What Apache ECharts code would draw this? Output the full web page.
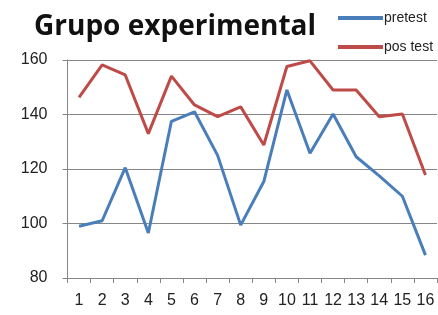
<!DOCTYPE html>
<html>
<head>
<meta charset="utf-8">
<script src="https://cdn.jsdelivr.net/npm/echarts@6/dist/echarts.min.js"></script>
<style>
  html, body { margin: 0; padding: 0; background: #fff; }
  #chart { width: 438px; height: 315px; }
</style>
</head>
<body>
<div id="chart"></div>
<script>
'use strict';

// datos
const sessions = ['1', '2', '3', '4', '5', '6', '7', '8', '9', '10', '11', '12', '13', '14', '15', '16'];
const pretest = [99, 101, 120.5, 96.5, 137.5, 141, 125, 99.4, 115.4, 149, 125.8, 140.2, 124.5, 117.5, 110, 88.4];
const postest = [146.3, 158.2, 154.5, 133, 154.1, 143.5, 139.2, 142.8, 128.8, 157.6, 159.7, 149, 149, 139.2, 140.2, 117.8];
const seriesNames = ['pretest', 'pos test'];

const chart = echarts.init(document.getElementById('chart'));

const axisGray = '#868686';

let option = {
    animation: false,
    title: {
        text: 'Grupo experimental',
        left: 29,
        top: 8,
        textStyle: {
            fontFamily: 'Open Sans',
            fontWeight: 'bold',
            fontSize: 28,
            color: '#111'
        }
    },
    legend: {
        orient: 'vertical',
        left: 333,
        top: 6,
        icon: 'rect',
        itemWidth: 45,
        itemHeight: 4,
        itemGap: 15,
        textStyle: { fontFamily: 'Liberation Sans', fontSize: 14, color: '#222', padding: [0, 0, 0, -4] },
        data: seriesNames
    },
    grid: {
        left: 67.5,
        right: 1,
        top: 60,
        bottom: 37
    },
    xAxis: {
        type: 'category',
        data: sessions,
        boundaryGap: true,
        axisLine: { lineStyle: { color: axisGray, width: 1 } },
        axisTick: { show: true, length: 5, lineStyle: { color: axisGray } },
        axisLabel: { color: '#222', fontFamily: 'Liberation Sans', fontSize: 16, margin: 15, interval: 0 }
    },
    yAxis: {
        type: 'value',
        min: 80,
        max: 160,
        interval: 20,
        axisLine: { show: true, lineStyle: { color: axisGray, width: 1 } },
        axisTick: { show: true, length: 5, lineStyle: { color: axisGray } },
        axisLabel: { color: '#222', fontFamily: 'Liberation Sans', fontSize: 16, margin: 20 },
        splitLine: { lineStyle: { color: axisGray, width: 1 } }
    },
    series: [
        {
            name: seriesNames[0],
            type: 'line',
            data: pretest,
            symbol: 'none',
            lineStyle: { color: '#4a7ebb', width: 3 },
            itemStyle: { color: '#4a7ebb' }
        },
        {
            name: seriesNames[1],
            type: 'line',
            data: postest,
            symbol: 'none',
            lineStyle: { color: '#be4b48', width: 3 },
            itemStyle: { color: '#be4b48' }
        }
    ]
};

chart.setOption(option);
</script>
</body>
</html>
